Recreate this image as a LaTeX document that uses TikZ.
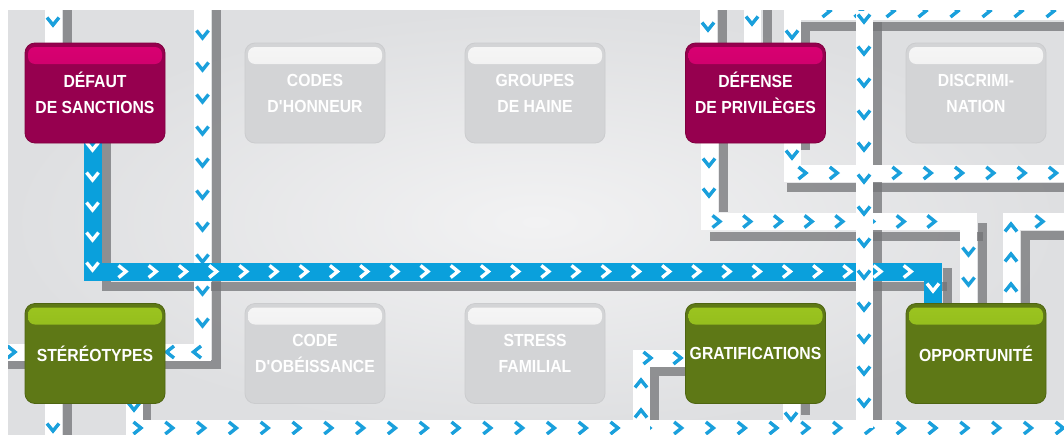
\documentclass[tikz,border=0pt]{standalone}
\usepackage{fontspec}
\newfontfamily\boxfont[FakeStretch=0.9]{Liberation Sans}
\usetikzlibrary{decorations.markings}
\definecolor{trackblue}{HTML}{0AA0DC}
\definecolor{chevblue}{HTML}{1AA0DC}
\definecolor{glinec}{HTML}{737477}
\definecolor{magbody}{HTML}{96004F}
\definecolor{magtop}{HTML}{DA0072}
\definecolor{magbot}{HTML}{B0005D}
\definecolor{magedge}{HTML}{80003F}
\definecolor{grbody}{HTML}{5E7816}
\definecolor{grtop}{HTML}{9CC520}
\definecolor{grbot}{HTML}{7BA514}
\definecolor{gredge}{HTML}{4E6511}
\definecolor{gybody}{HTML}{D3D4D6}
\definecolor{gytop}{HTML}{F6F6F6}
\definecolor{gybot}{HTML}{E3E3E4}
\definecolor{gyedge}{HTML}{CBCCCE}
\definecolor{bginner}{HTML}{F2F2F3}
\definecolor{bgouter}{HTML}{DEDFE1}
\begin{document}
\begin{tikzpicture}[x=1pt,y=-1pt,
  wtrack/.style={draw=white, line width=17pt, line join=miter, line cap=butt},
  btrack/.style={draw=trackblue, line width=18pt, line join=miter, line cap=butt},
  gline/.style={draw=glinec, line width=9pt, opacity=0.75, line join=miter, line cap=butt},
  chevs/.style n args={4}{decoration={markings, mark=between positions #1 and #2 step #3 with {\draw[draw=#4, line width=3.4pt, line join=miter, line cap=butt] (-4.5pt,6pt) -- (3pt,0pt) -- (-4.5pt,-6pt);}}, decorate},
  card/.style n args={4}{draw=#4, line width=0.8pt, fill=#1, rounded corners=10pt,
    minimum width=140pt, minimum height=100pt, inner sep=0pt, align=center, text=white,
    font=\boxfont\bfseries\fontsize{17.5}{26}\selectfont,
    path picture={\shade[top color=#2, bottom color=#3, rounded corners=7pt]
      ([shift={(3pt,-4pt)}]path picture bounding box.north west) rectangle
      ([shift={(-3pt,-21pt)}]path picture bounding box.north east);}},
  magcard/.style={card={magbody}{magtop}{magbot}{magedge}},
  grcard/.style={card={grbody}{grtop}{grbot}{gredge}},
  gycard/.style={card={gybody}{gytop}{gybot}{gyedge}},
]
\useasboundingbox (0,0) rectangle (1064,434);
\clip (0,0) rectangle (1064,434);
\fill[white] (0,0) rectangle (1064,434);
\shade[inner color=bginner, outer color=bgouter] (8,10) rectangle (1064,434);

% gray lines
\draw[gline] (67.5,0) -- (67.5,50);
\draw[gline] (216,0) -- (216,364) -- (8,364);
\draw[gline] (67,395) -- (67,440);
\draw[gline] (146.5,395) -- (146.5,420);
\draw[gline] (654.5,440) -- (654.5,371) -- (690,371);
\draw[gline] (805,395) -- (805,415);
\draw[gline] (106,140) -- (106,286) -- (947,286);
\draw[gline] (947,268) -- (947,310);
\draw[gline] (877.5,22) -- (877.5,420);
\draw[gline] (805,150) -- (805,26) -- (1070,26);
\draw[gline] (787,187.5) -- (1070,187.5);
\draw[gline] (722.5,0) -- (722.5,50);
\draw[gline] (767.5,0) -- (767.5,50);
\draw[gline] (723,140) -- (723,212);
\draw[gline] (710,236) -- (982.5,236);
\draw[gline] (982.5,223) -- (982.5,310);
\draw[gline] (1025,310) -- (1025,235) -- (1070,235);

% white tracks
\draw[wtrack] (53,0) -- (53,50);
\path[chevs={22pt}{1}{32pt}{chevblue}] (53,0) -- (53,50);

\draw[wtrack] (202.5,0) -- (202.5,352) -- (160,352);
\path[chevs={3pt}{1}{32pt}{chevblue}] (202.5,0) -- (202.5,352);
\path[chevs={6pt}{1}{27pt}{chevblue}] (202.5,352) -- (160,352);

\draw[wtrack] (0,352) -- (30,352);
\path[chevs={12pt}{1}{32pt}{chevblue}] (0,352) -- (30,352);

\draw[wtrack] (53,395) -- (53,440);
\path[chevs={33pt}{1}{32pt}{chevblue}] (53,395) -- (53,440);

\draw[wtrack] (134,395) -- (134,428) -- (1070,428);
\path[chevs={12pt}{1}{32pt}{chevblue}] (134,395) -- (134,428);
\path[chevs={4pt}{1}{31.8pt}{chevblue}] (134,428) -- (1070,428);

\draw[wtrack] (641,440) -- (641,358) -- (690,358);
\path[chevs={27pt}{1}{30pt}{chevblue}] (641,440) -- (641,358);
\path[chevs={7pt}{1}{30pt}{chevblue}] (641,358) -- (690,358);

\draw[wtrack] (791,395) -- (791,428);
\path[chevs={22pt}{1}{32pt}{chevblue}] (791,395) -- (791,428);

\draw[wtrack] (785,11) -- (1070,11);
\path[chevs={10pt}{1}{32pt}{chevblue}] (785,11) -- (1070,11);

\draw[wtrack] (792,0) -- (792,173) -- (1070,173);
\path[chevs={35pt}{1}{30pt}{chevblue}] (792,0) -- (792,173);
\path[chevs={11pt}{1}{31.3pt}{chevblue}] (792,173) -- (1070,173);

\draw[wtrack] (708,0) -- (708,50);
\path[chevs={27pt}{1}{32pt}{chevblue}] (708,0) -- (708,50);
\draw[wtrack] (752,0) -- (752,50);
\path[chevs={21pt}{1}{32pt}{chevblue}] (752,0) -- (752,50);

\draw[wtrack] (709,140) -- (709,221.5) -- (968.5,221.5) -- (968.5,310);
\path[chevs={23pt}{1}{30pt}{chevblue}] (709,140) -- (709,221.5);
\path[chevs={8pt}{-12pt}{30.7pt}{chevblue}] (709,221.5) -- (968.5,221.5);
\path[chevs={30.5pt}{1}{30pt}{chevblue}] (968.5,221.5) -- (968.5,310);

\draw[wtrack] (1011,310) -- (1011,221.5) -- (1070,221.5);
\path[chevs={23pt}{1}{30pt}{chevblue}] (1011,310) -- (1011,221.5);
\path[chevs={29pt}{1}{32pt}{chevblue}] (1011,221.5) -- (1070,221.5);

% highlighted blue track
\draw[btrack] (92.5,140) -- (92.5,271.5) -- (933,271.5) -- (933,310);
\path[chevs={7pt}{1}{30pt}{white}] (92.5,140) -- (92.5,271.5);
\path[chevs={30.5pt}{-14pt}{30.2pt}{white}] (92.5,271.5) -- (933,271.5);
\path[chevs={16.5pt}{1}{30pt}{white}] (933,271.5) -- (933,310);

% vertical white track crossing over the blue one
\draw[wtrack] (864,11) -- (864,428);
\path[chevs={8pt}{1}{32pt}{chevblue}] (864,11) -- (864,428);

% boxes
\node[magcard] (defaut) at (95,93) {DÉFAUT\\DE SANCTIONS};
\node[gycard] (codes) at (315,93) {CODES\\D\textquotesingle HONNEUR};
\node[gycard] (groupes) at (535,93) {GROUPES\\DE HAINE};
\node[magcard] (defense) at (755.5,93) {DÉFENSE\\DE PRIVILÈGES};
\node[gycard] (discrim) at (976,93) {DISCRIMI-\\NATION};
\node[grcard] (stereo) at (95,353.5) {STÉRÉOTYPES};
\node[gycard] (codeob) at (315,353.5) {CODE\\D\textquotesingle OBÉISSANCE};
\node[gycard] (stress) at (535,353.5) {STRESS\\FAMILIAL};
\node[grcard] (gratif) at (755.5,353.5) {GRATIFICATIONS};
\node[grcard] (opport) at (976,353.5) {OPPORTUNITÉ};

% white margins
\fill[white] (0,0) rectangle (1064,10);
\fill[white] (0,0) rectangle (8,434);
\end{tikzpicture}
\end{document}
